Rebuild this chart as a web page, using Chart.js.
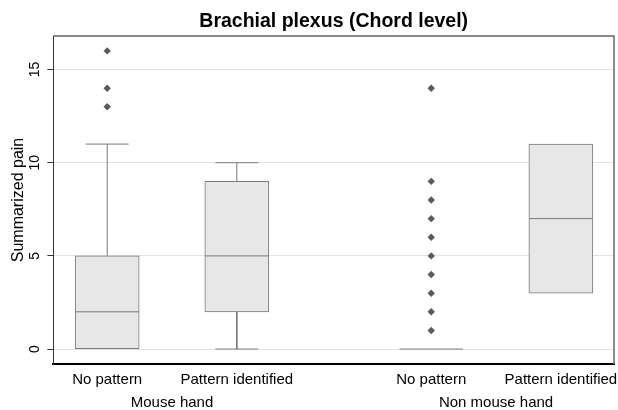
<!DOCTYPE html>
<html lang="en">
<head>
<meta charset="UTF-8">
<title>Brachial plexus (Chord level)</title>
<script src="https://cdn.jsdelivr.net/npm/chart.js"></script>
<style>
    body {
        margin: 0;
        background: #fff;
    }

    #wrap {
        width: 618px;
        height: 410px;
    }
</style>
</head>
<body>
<div id="wrap"><canvas id="chart"></canvas></div>
<script>
    // box plot values
    const categories = ['No pattern', 'Pattern identified', 'No pattern', 'Pattern identified'];
    const positions = [1, 2, 3.5, 4.5];
    const groups = ['Mouse hand', 'Non mouse hand'];
    const groupPositions = [1.5, 4];
    const lowWhisker = [0, 0, 0, 3];
    const q1 = [0, 2, 0, 3];
    const median = [2, 5, 0, 7];
    const q3 = [5, 9, 0, 11];
    const highWhisker = [11, 10, 0, 11];
    const outliers = [[13, 14, 16], [], [1, 2, 3, 4, 5, 6, 7, 8, 9, 14], []];
    const yTicks = [0, 5, 10, 15];

    const boxHalf = 0.245;
    const capHalf = 0.165;
    const boxLine = '#7a7a7a';

    const gap = x => ({ x: x, y: null });

    const whiskers = [];
    const caps = [];
    const medians = [];
    positions.forEach((p, i) => {
        if (highWhisker[i] > q3[i]) {
            whiskers.push({ x: p, y: q3[i] }, { x: p, y: highWhisker[i] }, gap(p));
            caps.push({ x: p - capHalf, y: highWhisker[i] }, { x: p + capHalf, y: highWhisker[i] }, gap(p));
        }
        if (lowWhisker[i] < q1[i]) {
            whiskers.push({ x: p, y: q1[i] }, { x: p, y: lowWhisker[i] }, gap(p));
            caps.push({ x: p - capHalf, y: lowWhisker[i] }, { x: p + capHalf, y: lowWhisker[i] }, gap(p));
        }
        medians.push({ x: p - boxHalf, y: median[i] }, { x: p + boxHalf, y: median[i] }, gap(p));
    });

    const outlierPoints = [];
    outliers.forEach((list, i) => list.forEach(v => outlierPoints.push({ x: positions[i], y: v })));

    const lineSet = (data, order) => ({
        type: 'line',
        data: data,
        borderColor: boxLine,
        borderWidth: 1,
        pointRadius: 0,
        spanGaps: false,
        order: order
    });

    // grey frame on top and right of the plot region
    const framePlugin = {
        id: 'frame',
        afterDatasetsDraw(chart) {
            const { ctx, chartArea: a } = chart;
            ctx.save();
            ctx.strokeStyle = '#666';
            ctx.lineWidth = 1.5;
            ctx.beginPath();
            ctx.moveTo(a.left, a.top);
            ctx.lineTo(a.right, a.top);
            ctx.lineTo(a.right, a.bottom);
            ctx.stroke();
            ctx.restore();
        }
    };

    Chart.defaults.font.family = 'Arial, "Liberation Sans", sans-serif';
    Chart.defaults.color = '#000';

    new Chart(document.getElementById('chart'), {
        type: 'bar',
        data: {
            datasets: [
                lineSet(medians, 0),
                {
                    type: 'scatter',
                    data: outlierPoints,
                    pointStyle: 'rectRot',
                    pointRadius: 3.7,
                    backgroundColor: '#5a5a5a',
                    borderWidth: 0,
                    order: 1
                },
                {
                    type: 'bar',
                    data: positions.map((p, i) => ({ x: p, y: [q1[i], q3[i]] })),
                    backgroundColor: '#e7e7e7',
                    borderColor: boxLine,
                    borderWidth: 1,
                    borderSkipped: false,
                    barThickness: 64,
                    grouped: false,
                    order: 2
                },
                lineSet(caps, 3),
                lineSet(whiskers, 3)
            ]
        },
        options: {
            responsive: true,
            maintainAspectRatio: false,
            animation: false,
            layout: {
                padding: { left: 12.6, right: 4, top: 0, bottom: 0 }
            },
            plugins: {
                legend: { display: false },
                tooltip: { enabled: false },
                title: {
                    display: true,
                    fullSize: false,
                    text: 'Brachial plexus (Chord level)',
                    font: { size: 19.5, weight: 'bold', lineHeight: 1.2 },
                    padding: { top: 10.3, bottom: 2.3 }
                }
            },
            scales: {
                x: {
                    type: 'linear',
                    min: 0.585,
                    max: 4.91,
                    offset: false,
                    weight: 0,
                    afterBuildTicks: axis => {
                        axis.ticks = positions.map(v => ({ value: v }));
                    },
                    ticks: {
                        autoSkip: false,
                        maxRotation: 0,
                        padding: 0,
                        font: { size: 15, lineHeight: 32 / 15 },
                        callback: (v, i) => categories[i]
                    },
                    grid: { display: false, drawTicks: false, tickLength: 0 },
                    border: { display: true, color: '#000', width: 2 }
                },
                x2: {
                    type: 'linear',
                    position: 'bottom',
                    min: 0.585,
                    max: 4.91,
                    offset: false,
                    weight: 1,
                    afterBuildTicks: axis => {
                        axis.ticks = groupPositions.map(v => ({ value: v }));
                    },
                    ticks: {
                        autoSkip: false,
                        maxRotation: 0,
                        padding: 0,
                        font: { size: 15, lineHeight: 14 / 15 },
                        callback: (v, i) => groups[i]
                    },
                    grid: { display: false, drawTicks: false, tickLength: 0 },
                    border: { display: false }
                },
                y: {
                    min: -0.8,
                    max: 16.8,
                    afterBuildTicks: axis => {
                        axis.ticks = yTicks.map(v => ({ value: v }));
                    },
                    ticks: {
                        minRotation: 90,
                        maxRotation: 90,
                        crossAlign: 'center',
                        padding: 4,
                        font: { size: 14, lineHeight: 1 }
                    },
                    grid: {
                        color: '#e2e2e2',
                        tickColor: '#333',
                        tickLength: 6
                    },
                    border: { display: true, color: '#333', width: 1 },
                    title: {
                        display: true,
                        text: 'Summarized pain',
                        font: { size: 16, lineHeight: 0.8 },
                        padding: { top: 0, bottom: 0 }
                    }
                }
            }
        },
        plugins: [framePlugin]
    });
</script>
</body>
</html>
